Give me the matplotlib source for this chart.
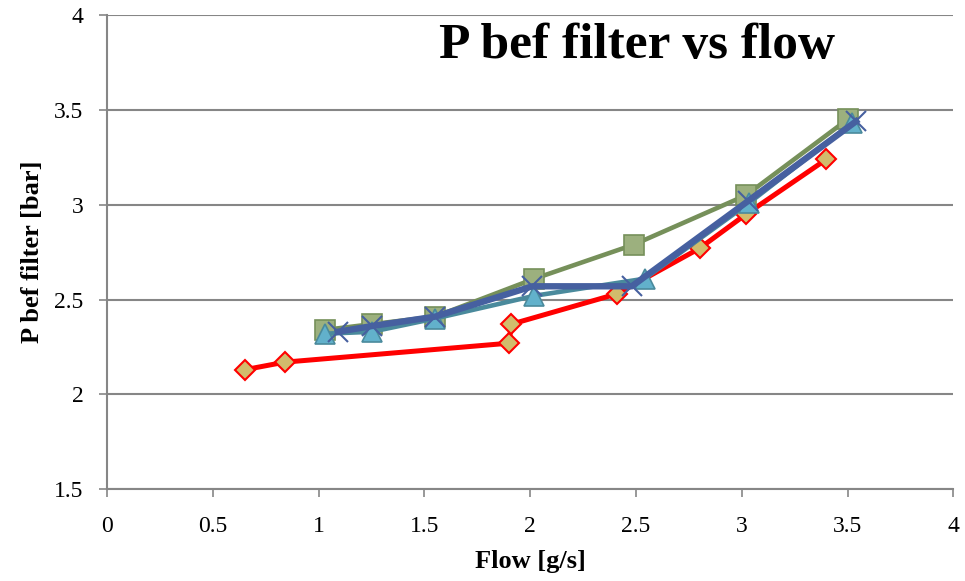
import matplotlib
matplotlib.use("Agg")
import matplotlib.pyplot as plt

# Red diamonds series
red_x = [0.65, 0.84, 1.90, 1.91, 2.41, 2.80, 3.02, 3.40]
red_y = [2.13, 2.17, 2.27, 2.37, 2.53, 2.77, 2.95, 3.24]
# Green squares series
green_x = [1.03, 1.25, 1.55, 2.02, 2.49, 3.02, 3.50]
green_y = [2.34, 2.37, 2.41, 2.61, 2.79, 3.05, 3.45]
# Teal triangles series
teal_x = [1.03, 1.25, 1.55, 2.02, 2.54, 3.035, 3.52]
teal_y = [2.32, 2.33, 2.40, 2.52, 2.61, 3.01, 3.43]
# Blue X series
blue_x = [1.09, 1.25, 1.55, 2.01, 2.48, 3.03, 3.54]
blue_y = [2.33, 2.36, 2.41, 2.57, 2.57, 3.02, 3.44]

x_ticks = [0, 0.5, 1, 1.5, 2, 2.5, 3, 3.5, 4]
y_ticks = [1.5, 2, 2.5, 3, 3.5, 4]
title = "P bef filter vs flow"
xlabel = "Flow [g/s]"
ylabel = "P bef filter [bar]"

serif = ["Liberation Serif", "DejaVu Serif"]

fig = plt.figure(figsize=(9.65, 5.81), dpi=100)
ax = fig.add_axes([0.111, 0.158, 0.877, 0.816])

ax.plot(red_x, red_y, color="#FF0000", lw=3.6, marker="D", ms=10,
        mfc="#D2BC6C", mec="#FF0000", mew=1.5, zorder=3)
ax.plot(green_x, green_y, color="#76905A", lw=3.3, marker="s", ms=14,
        mfc="#9CB07E", mec="#76905A", mew=1.2, zorder=4)
ax.plot(teal_x, teal_y, color="#4A8A9C", lw=3.3, marker="^", ms=15,
        mfc="#62B1CB", mec="#4A8A9C", mew=1.2, zorder=5)
ax.plot(blue_x, blue_y, color="#4660A0", lw=4.6, marker="x", ms=14,
        mec="#4660A0", mew=1.5, zorder=6)

ax.set_xlim(0, 4)
ax.set_ylim(1.5, 4)
ax.set_xticks(x_ticks)
ax.set_yticks(y_ticks)
ax.set_xticklabels([f"{v:g}" for v in x_ticks], fontfamily=serif, fontsize=17)
ax.set_yticklabels([f"{v:g}" for v in y_ticks], fontfamily=serif, fontsize=17)
ax.yaxis.grid(True, color="#868686", lw=1.5)
ax.set_axisbelow(True)
for s in ["top", "right"]:
    ax.spines[s].set_visible(False)
for s in ["left", "bottom"]:
    ax.spines[s].set_color("#868686")
    ax.spines[s].set_linewidth(1.5)
ax.tick_params(axis="both", direction="out", length=6, width=1.2, color="#868686")
ax.tick_params(axis="y", pad=11)
ax.tick_params(axis="x", pad=13)

ax.set_xlabel(xlabel, fontfamily=serif, fontsize=19, fontweight="bold", labelpad=10)
ax.set_ylabel(ylabel, fontfamily=serif, fontsize=19, fontweight="bold", labelpad=7)
ax.text(0.626, 0.935, title, transform=ax.transAxes, ha="center", va="center",
        fontfamily=serif, fontsize=37, fontweight="bold")

fig.savefig("out.png", dpi=100)
